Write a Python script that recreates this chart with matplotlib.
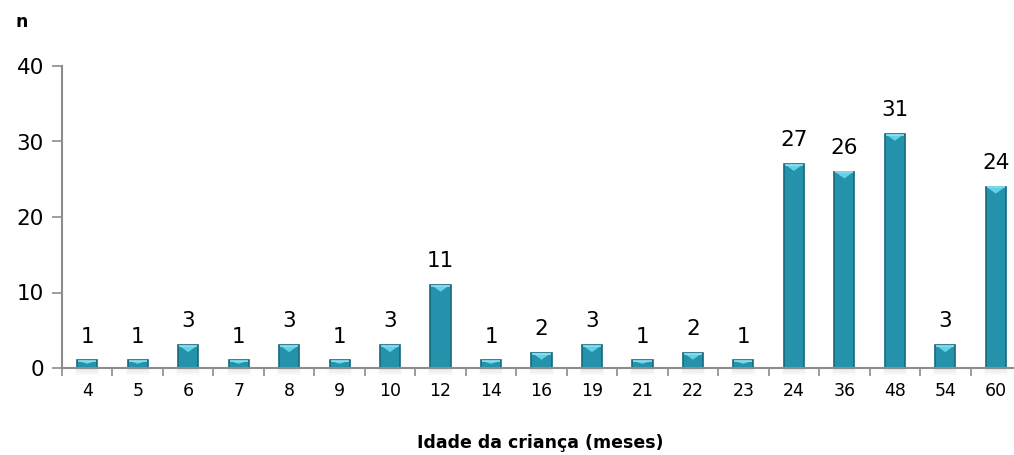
import numpy as np
import matplotlib.pyplot as plt
from matplotlib.patches import Polygon, Rectangle

## age groups (months) and number of children
idades = ['4', '5', '6', '7', '8', '9', '10', '12', '14', '16', '19',
          '21', '22', '23', '24', '36', '48', '54', '60']
n_criancas = [1, 1, 3, 1, 3, 1, 3, 11, 1, 2, 3, 1, 2, 1, 27, 26, 31, 3, 24]

plt.rcParams['font.family'] = ['DejaVu Sans']

fig = plt.figure(figsize=(10.14, 4.55), dpi=100)
ax = fig.add_axes([62/1014, 87/455, 959/1014, 302/455])

x = np.arange(len(idades))
w = 0.4

#soft shadow under each bar (a few stacked transparent layers)
for xi in x:
    for k, a in enumerate([0.10, 0.08, 0.06]):
        ax.add_patch(Rectangle((xi - w/2 - 0.02 * k, -0.3 * (k + 1)), w + 0.04 * k, 0.3 * (k + 1),
                               color='#9a9a9a', alpha=a, lw=0, clip_on=False, zorder=1))

bars = ax.bar(x, n_criancas, width=w, color='#2592ac', edgecolor='#17697e',
              linewidth=1.2, zorder=2)

#light bevel at the top of the bars
for xi, v in zip(x, n_criancas):
    d = min(0.9, v * 0.45)
    tri = Polygon([(xi - w/2 + 0.03, v - 0.08), (xi + w/2 - 0.03, v - 0.08), (xi, v - d)],
                  closed=True, color='#62d2ea', lw=0, zorder=3)
    ax.add_patch(tri)
    ax.plot([xi - w/2 + 0.02, xi + w/2 - 0.02], [v - 0.08, v - 0.08], color='#8ee3f3',
            lw=1.2, zorder=3, solid_capstyle='butt')

for xi, v in zip(x, n_criancas):
    ax.annotate(str(v), (xi, v), xytext=(0, 10), textcoords='offset points',
                ha='center', va='bottom', fontsize=15.5)

ax.set_xlim(-0.5, len(idades) - 0.5)
ax.set_ylim(0, 40)
ax.set_yticks([0, 10, 20, 30, 40])
ax.set_xticks(x)
ax.set_xticklabels(idades, fontsize=12.5)
ax.set_xticks(np.arange(len(idades) + 1) - 0.5, minor=True)
ax.tick_params(axis='x', which='major', length=0, pad=10)
ax.tick_params(axis='x', which='minor', length=6, color='#8c8c8c', width=1.2)
ax.tick_params(axis='y', labelsize=15.5, length=7, color='#8c8c8c', width=1.2, pad=6)

for s in ['top', 'right']:
    ax.spines[s].set_visible(False)
for s in ['left', 'bottom']:
    ax.spines[s].set_color('#8c8c8c')
    ax.spines[s].set_linewidth(1.5)
    ax.spines[s].set_zorder(4)

fig.text(22/1014, 1 - 22/455, 'n', fontsize=12.5, fontweight='bold', ha='center', va='center')
fig.text(540/1014, 1 - 443/455, 'Idade da criança (meses)', fontsize=12.5,
         fontweight='bold', ha='center', va='center')

plt.savefig('out.png', dpi=100)
